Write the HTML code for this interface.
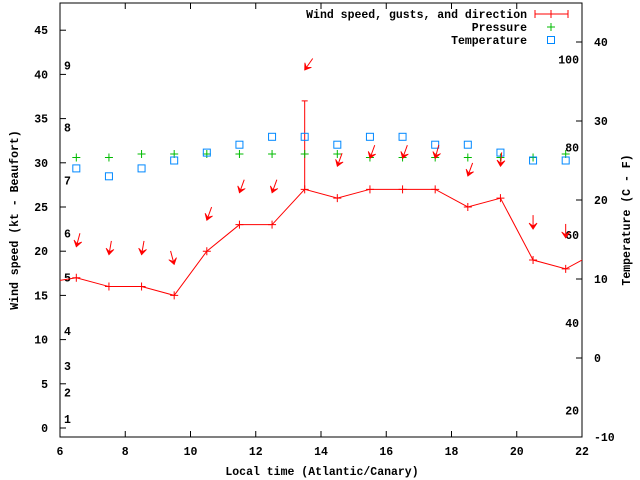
<!DOCTYPE html>
<html><head><meta charset="utf-8"><style>
body{margin:0;background:#fff}
svg{display:block}
text{font-family:"Liberation Mono",monospace;font-size:11.5px;font-weight:bold;fill:#000}
</style></head><body>
<svg id="c" width="640" height="480"></svg>
<script>
const hours=[6.5,7.5,8.5,9.5,10.5,11.5,12.5,13.5,14.5,15.5,16.5,17.5,18.5,19.5,20.5,21.5];
const windHours=[5.5,6.5,7.5,8.5,9.5,10.5,11.5,12.5,13.5,14.5,15.5,16.5,17.5,18.5,19.5,20.5,21.5,22.5];
const windSpeed=[16.4,17,16,16,15,20,23,23,27,26,27,27,27,25,26,19,18,20];
const gustHour=[13.5];
const gustValue=[37];
const gustBase=[27];
const pressure=[30.6,30.6,31,31,31,31,31,31,31,30.6,30.6,30.6,30.6,30.6,30.6,31];
const temperature=[24,23,24,25,26,27,28,28,27,28,28,27,27,26,25,25];
const arrowKt=[20.5,19.6,19.6,18.5,23.5,26.6,26.6,40.5,29.6,30.5,30.5,30.5,28.5,29.6,22.5,21.5];
const arrowDir=[15,10,10,-15,20,20,20,35,20,20,20,15,20,5,0,0];
const xTicks=[6,8,10,12,14,16,18,20,22];
const yTicks=[0,5,10,15,20,25,30,35,40,45];
const cTicks=[-10,0,10,20,30,40];
const fTicks=[20,40,60,80,100];
const beaufortKt=[1,4,7,11,17,22,28,34,41];
const beaufortLabel=["1","2","3","4","5","6","7","8","9"];

const L=60,R=582,T=3,B=437;
const X=h=>L+(h-6)*(R-L)/16;
const Y=v=>428-v*8.84;
const YC=c=>B-(c+10)*7.9;
const svg=document.getElementById('c');
const NS="http://www.w3.org/2000/svg";
function mk(tag,attrs,parent){const e=document.createElementNS(NS,tag);for(const k in attrs)e.setAttribute(k,attrs[k]);(parent||svg).appendChild(e);return e;}
function txt(x,y,s,anchor){const t=mk('text',{x:x,y:y,'text-anchor':anchor||'middle'});t.textContent=s;return t;}

const frame=mk('rect',{x:L,y:T,width:R-L,height:B-T,fill:'none',stroke:'#000','stroke-width':1});



xTicks.forEach(h=>{
  const g=mk('g',{});
  
  
  mk('line',{x1:X(h),x2:X(h),y1:B,y2:B-6,stroke:'#000'},g);
  mk('line',{x1:X(h),x2:X(h),y1:T,y2:T+6,stroke:'#000'},g);
  const t=txt(X(h),B+18,String(h));
  
  
});
yTicks.forEach(v=>{
  const l=mk('line',{x1:L,x2:L+6,y1:Y(v),y2:Y(v),stroke:'#000'});
  
  
  const t=txt(L-12,Y(v)+4,String(v),'end');
  
  
});
cTicks.forEach(c=>{
  const l=mk('line',{x1:R,x2:R-6,y1:YC(c),y2:YC(c),stroke:'#000'});
  
  
  const t=txt(R+12,YC(c)+4,String(c),'start');
  
  
});
fTicks.forEach(f=>{
  const t=txt(R-3,YC((f-32)*5/9)+4,String(f),'end');
  
  
});
beaufortKt.forEach((k,i)=>{
  const t=txt(64,Y(k)+4,beaufortLabel[i],'start');
  
  
});

let t=txt(322,475,'Local time (Atlantic/Canary)');


t=txt(0,0,'Wind speed (kt - Beaufort)');
t.setAttribute('transform','translate(18,220) rotate(-90)');


t=txt(0,0,'Temperature (C - F)');
t.setAttribute('transform','translate(630,220) rotate(-90)');



const defs=mk('defs',{});
const cp=mk('clipPath',{id:'pc'},defs);
mk('rect',{x:L,y:T,width:R-L,height:B-T},cp);
const plot=mk('g',{'clip-path':'url(#pc)'});

const pts=windHours.map((h,i)=>X(h)+','+Y(windSpeed[i])).join(' ');
const wl=mk('polyline',{points:pts,fill:'none',stroke:'#f00','stroke-width':1},plot);


windHours.forEach((h,i)=>{
  const g=mk('path',{d:`M${X(h)-4},${Y(windSpeed[i])}h8M${X(h)},${Y(windSpeed[i])-4}v8`,stroke:'#f00'},plot);
  
  
});
gustHour.forEach((h,i)=>{
  const g=mk('path',{d:`M${X(h)},${Y(gustBase[i])}V${Y(gustValue[i])}M${X(h)-3},${Y(gustValue[i])}h6`,stroke:'#f00'},plot);
  
  
});
hours.forEach((h,i)=>{
  const g=mk('path',{d:`M${X(h)-4},${Y(pressure[i])}h8M${X(h)},${Y(pressure[i])-4}v8`,stroke:'#0b0'},plot);
  
  
});
hours.forEach((h,i)=>{
  const g=mk('rect',{x:X(h)-3.5,y:YC(temperature[i])-3.5,width:7,height:7,fill:'none',stroke:'#08f'},plot);
  
  
});
hours.forEach((h,i)=>{
  const x=X(h),y=Y(arrowKt[i]),a=arrowDir[i]*Math.PI/180;
  const ux=Math.sin(a),uy=-Math.cos(a);
  const tx=x+14*ux,ty=y+14*uy;
  const px=-uy,py=ux;
  const bx=x+6*ux,by=y+6*uy;
  const g=mk('g',{},plot);
  
  
  mk('line',{x1:tx,y1:ty,x2:x,y2:y,stroke:'#f00'},g);
  mk('polygon',{points:`${x},${y} ${bx+4*px},${by+4*py} ${x+3*ux},${y+3*uy} ${bx-4*px},${by-4*py}`,fill:'#f00',stroke:'#f00','stroke-width':0.8},g);
});

const lg=mk('g',{});


[['Wind speed, gusts, and direction',18],['Pressure',31],['Temperature',44]].forEach(([s,y])=>{
  const e=mk('text',{x:527,y:y,'text-anchor':'end'},lg);e.textContent=s;
});
mk('path',{d:'M535,14h33M535,10v8M568,10v8M551,10v8',stroke:'#f00'},lg);
mk('path',{d:'M547,27h8M551,23v8',stroke:'#0b0'},lg);
mk('rect',{x:547.5,y:36.5,width:7,height:7,fill:'none',stroke:'#08f'},lg);
</script>
</body></html>
